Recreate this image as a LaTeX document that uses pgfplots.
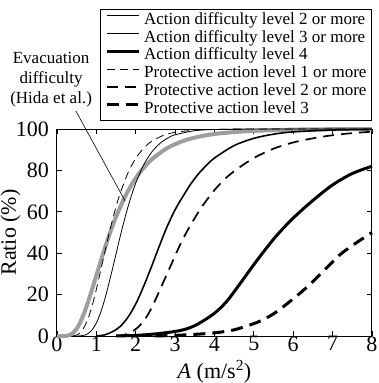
\documentclass[border=0pt]{standalone}
\usepackage{fontspec}
\setmainfont{Liberation Serif}
\usepackage{pgfplots}
\pgfplotsset{compat=1.18}

\begin{document}
\begin{tikzpicture}
\begin{axis}[
  name=ax,
  scale only axis,
  width=315pt, height=207pt,
  xmin=0, xmax=8, ymin=0, ymax=100,
  xtick={0,1,...,8}, ytick={0,20,...,100},
  tick align=inside,
  major tick length=5pt,
  axis line style={line width=1pt},
  every tick/.style={line width=0.8pt, black},
  tick label style={font=\fontsize{22}{26}\selectfont},
  yticklabel style={xshift=-4.5pt},
  xticklabel style={yshift=3pt},
  /pgf/number format/assume math mode=true,
  xlabel={\textit{A} (m/s\textsuperscript{2})},
  ylabel={Ratio (\%)},
  label style={font=\fontsize{22}{26}\selectfont},
  xlabel style={at={(axis description cs:0.5,0)}, anchor=base,
                yshift=-42pt, inner sep=0pt},
  % the label is turned by 90 degrees, so its own y direction points left
  ylabel style={at={(axis description cs:0,0.5)}, anchor=north,
                yshift=56.5pt, inner sep=0pt},
  clip=false,
  legend cell align=left,
  legend image code/.code={\draw[#1] (0pt,5pt) -- (32pt,5pt);},
  legend style={
    at={(axis description cs:1,1)}, anchor=south east, yshift=8pt,
    draw=black, line width=1pt,
    font=\fontsize{17}{20}\selectfont,
    inner xsep=5pt, inner ysep=2pt,
    row sep=0pt, column sep=4pt,
    nodes={inner sep=0pt, text height=12.5pt, text depth=5.3pt},
  },
]

% Evacuation difficulty after Hida et al. (grey, no legend entry)
\addplot[forget plot, smooth, color=black!38, line width=4pt] coordinates {
 (0,0) (0.2,0) (0.3,0.3) (0.4,1.4) (0.5,3.5) (0.6,7) (0.7,11.6) (0.8,17.1)
 (0.9,23.1) (1.0,29.3) (1.1,35.5) (1.2,41.5) (1.35,50) (1.5,57.6) (1.7,66.2)
 (1.9,73.3) (2.1,78.9) (2.4,85.2) (2.8,90.8) (3.2,94.2) (3.6,96.3) (4.0,97.6)
 (4.5,98.5) (5,99.1) (6,99.7) (7,99.9) (8,99.9)
};

% Action difficulty level 2 or more
\addplot[smooth, black, line width=0.8pt] coordinates {
 (0.5,0) (0.6,0.1) (0.7,0.4) (0.8,1.3) (0.9,3.2) (1.0,6.3) (1.1,10.9)
 (1.2,16.9) (1.3,24) (1.4,31.7) (1.5,39.7) (1.6,47.7) (1.7,55.2) (1.8,62.2)
 (1.9,68.4) (2.0,73.9) (2.2,82.6) (2.4,88.7) (2.6,92.8) (2.8,95.5) (3.0,97.2)
 (3.5,99.2) (4.0,99.75) (5,100) (8,100)
};
\addlegendentry{Action difficulty level 2 or more}

% Action difficulty level 3 or more
\addplot[smooth, black, line width=1.6pt] coordinates {
 (1.0,0) (1.2,0.5) (1.4,2) (1.6,4.5) (1.8,9) (2.0,15.5) (2.2,24) (2.4,33.5)
 (2.6,43.5) (2.8,53) (3.0,61) (3.2,67.5) (3.4,73.5) (3.6,78.5) (3.8,82.5)
 (4.0,86) (4.5,92) (5.0,95.5) (5.5,97.5) (6,98.6) (7,99.5) (8,99.8)
};
\addlegendentry{Action difficulty level 3 or more}

% Action difficulty level 4
\addplot[smooth, black, line width=3pt] coordinates {
 (1.5,0) (2.0,0.3) (2.5,1) (3.0,2.2) (3.3,3.5) (3.6,6) (4.0,11) (4.3,16.5)
 (4.6,24) (5.0,34.5) (5.3,42) (5.6,49) (6.0,57) (6.5,65.5) (7.0,73)
 (7.5,78.5) (8.0,82)
};
\addlegendentry{Action difficulty level 4}

% Protective action level 1 or more
\addplot[smooth, black, line width=0.8pt, dash pattern=on 8pt off 5pt] coordinates {
 (0.4,0) (0.5,0.5) (0.6,1.8) (0.7,4.6) (0.8,9.0) (0.9,15.2) (1.0,22.6)
 (1.1,30.9) (1.2,39.3) (1.3,47.6) (1.4,55.4) (1.5,62.4) (1.6,68.7) (1.8,78.7)
 (2.0,85.8) (2.2,90.7) (2.4,94.0) (2.7,96.9) (3.0,98.4) (3.5,99.45) (4,99.8)
 (5,100) (8,100)
};
\addlegendentry{Protective action level 1 or more}

% Protective action level 2 or more
\addplot[smooth, black, line width=1.7pt, dash pattern=on 11pt off 7pt] coordinates {
 (1.5,0) (1.7,0.5) (1.9,2) (2.1,5) (2.3,10) (2.5,17.5) (2.7,26) (2.9,34.5)
 (3.1,43) (3.3,50.5) (3.5,57) (3.7,63) (4.0,70.5) (4.3,76.5) (4.6,81)
 (5.0,86) (5.5,90.5) (6.0,93.5) (6.5,95.5) (7.0,97) (7.5,98) (8.0,98.7)
};
\addlegendentry{Protective action level 2 or more}

% Protective action level 3
\addplot[smooth, black, line width=3pt, dash pattern=on 12pt off 7pt] coordinates {
 (2.5,0) (3.0,0.3) (3.5,0.8) (4.0,1.5) (4.5,3) (5.0,6) (5.3,8.5) (5.6,12)
 (6.0,18) (6.4,24.5) (6.8,32) (7.2,39.5) (7.6,45) (8.0,50)
};
\addlegendentry{Protective action level 3}

% callout for the grey curve
\draw[line width=0.6pt] (axis cs:0.48,108.7) -- (axis cs:1.73,65.2);
\node[align=center, font=\fontsize{17}{20}\selectfont, inner sep=0pt]
  at (axis cs:-0.15,123.7) {Evacuation\\difficulty\\(Hida et al.)};
\end{axis}
\pgfresetboundingbox
\path[use as bounding box] (ax.south west) ++(-57pt,-47pt) rectangle ++(379pt,383pt);
\end{tikzpicture}
\end{document}
